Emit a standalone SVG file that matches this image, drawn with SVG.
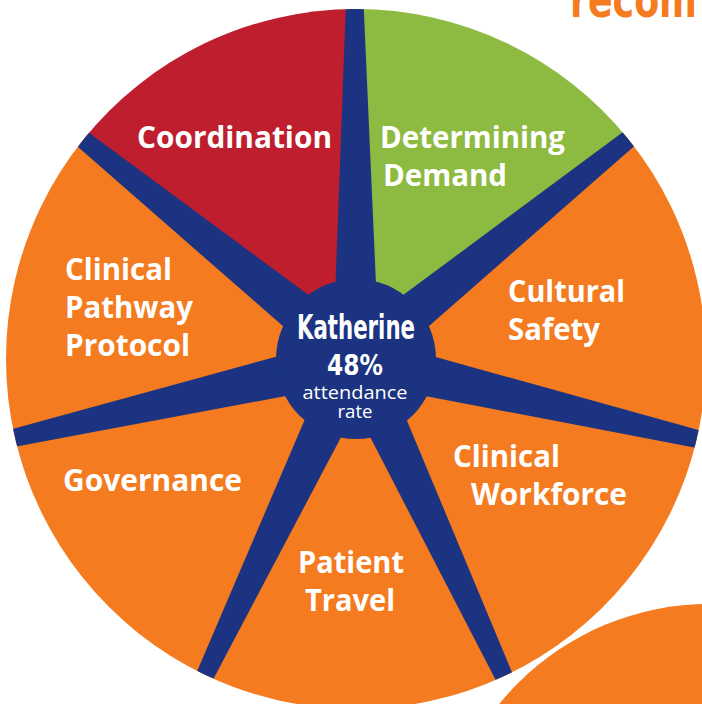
<svg xmlns="http://www.w3.org/2000/svg" xmlns:xlink="http://www.w3.org/1999/xlink" width="702" height="704" viewBox="0 0 702 704">
  <style>
    .orange { fill: #F47B20; }
    .red { fill: #BE1E2D; }
    .green { fill: #8DBA41; }
    .navy { fill: #1B3380; }
    .label { font-family: "Open Sans", "Liberation Sans", sans-serif; font-weight: bold; font-size: 31px; fill: #FFFFFF; }
    .hub-big { font-family: "DejaVu Sans", "Liberation Sans", sans-serif; font-stretch: condensed; font-weight: bold; fill: #FFFFFF; }
    .hub-small { font-family: "Open Sans", "Liberation Sans", sans-serif; font-size: 19px; fill: #FFFFFF; }
    .heading { font-family: "DejaVu Sans", "Liberation Sans", sans-serif; font-stretch: condensed; font-weight: bold; font-size: 50px; fill: #F47B20; }
  </style>
  <defs>
    <clipPath id="wheel-clip">
      <circle cx="356" cy="359" r="350"/>
    </clipPath>
    <!-- one tapered spoke pointing straight up from the hub centre -->
    <polygon id="spoke" points="332.7,359 347.4,-1 364.6,-1 379.3,359"/>
  </defs>

  <rect width="702" height="704" fill="#FFFFFF"/>

  <!-- heading running off the top and right edges -->
  <text class="heading" x="570" y="17" textLength="127" lengthAdjust="spacingAndGlyphs">recom</text>

  <!-- neighbouring disc in the lower right corner -->
  <circle class="orange" cx="709" cy="874" r="270"/>

  <!-- wheel segments -->
  <g id="determining-demand">
    <path class="green" d="M356,359 L354.78,9 A350,350 0 0 1 628.42,139.25 Z"/>
    <text class="label" x="380" y="148" textLength="185" lengthAdjust="spacingAndGlyphs">Determining</text>
    <text class="label" x="383" y="186" textLength="124" lengthAdjust="spacingAndGlyphs">Demand</text>
  </g>
  <g id="cultural-safety">
    <path class="orange" d="M356,359 L628.42,139.25 A350,350 0 0 1 696.75,438.92 Z"/>
    <text class="label" x="508" y="302" textLength="117" lengthAdjust="spacingAndGlyphs">Cultural</text>
    <text class="label" x="508" y="340" textLength="92" lengthAdjust="spacingAndGlyphs">Safety</text>
  </g>
  <g id="clinical-workforce">
    <path class="orange" d="M356,359 L696.75,438.92 A350,350 0 0 1 503.92,676.21 Z"/>
    <text class="label" x="453" y="467" textLength="107" lengthAdjust="spacingAndGlyphs">Clinical</text>
    <text class="label" x="471" y="505" textLength="156" lengthAdjust="spacingAndGlyphs">Workforce</text>
  </g>
  <g id="patient-travel">
    <path class="orange" d="M356,359 L503.92,676.21 A350,350 0 0 1 205.32,674.91 Z"/>
    <text class="label" x="298" y="573" textLength="106" lengthAdjust="spacingAndGlyphs">Patient</text>
    <text class="label" x="305" y="611" textLength="90" lengthAdjust="spacingAndGlyphs">Travel</text>
  </g>
  <g id="governance">
    <path class="orange" d="M356,359 L205.32,674.91 A350,350 0 0 1 14.97,437.73 Z"/>
    <text class="label" x="63" y="491" textLength="179" lengthAdjust="spacingAndGlyphs">Governance</text>
  </g>
  <g id="clinical-pathway-protocol">
    <path class="orange" d="M356,359 L14.97,437.73 A350,350 0 0 1 83.23,139.69 Z"/>
    <text class="label" x="65" y="280" textLength="107" lengthAdjust="spacingAndGlyphs">Clinical</text>
    <text class="label" x="65" y="318" textLength="128" lengthAdjust="spacingAndGlyphs">Pathway</text>
    <text class="label" x="65" y="356" textLength="125" lengthAdjust="spacingAndGlyphs">Protocol</text>
  </g>
  <g id="coordination">
    <path class="red" d="M356,359 L83.23,139.69 A350,350 0 0 1 354.78,9 Z"/>
    <text class="label" x="137" y="148" textLength="195" lengthAdjust="spacingAndGlyphs">Coordination</text>
  </g>

  <!-- spokes dividing the segments -->
  <g id="spokes" class="navy" clip-path="url(#wheel-clip)">
    <use xlink:href="#spoke" transform="rotate(-0.2 356 359)"/>
    <use xlink:href="#spoke" transform="rotate(51.1 356 359)"/>
    <use xlink:href="#spoke" transform="rotate(103.2 356 359)"/>
    <use xlink:href="#spoke" transform="rotate(155 356 359)"/>
    <use xlink:href="#spoke" transform="rotate(205.5 356 359)"/>
    <use xlink:href="#spoke" transform="rotate(257 356 359)"/>
    <use xlink:href="#spoke" transform="rotate(308.8 356 359)"/>
  </g>

  <!-- hub -->
  <g id="hub">
    <circle class="navy" cx="356" cy="359" r="80"/>
    <text class="hub-big" x="356" y="339" font-size="33" text-anchor="middle" textLength="118" lengthAdjust="spacingAndGlyphs">Katherine</text>
    <text class="hub-big" x="355" y="375" font-size="29" text-anchor="middle" textLength="56" lengthAdjust="spacingAndGlyphs">48%</text>
    <text class="hub-small" x="355" y="399" text-anchor="middle" textLength="105" lengthAdjust="spacingAndGlyphs">attendance</text>
    <text class="hub-small" x="355" y="418" text-anchor="middle" textLength="35" lengthAdjust="spacingAndGlyphs">rate</text>
  </g>
</svg>
